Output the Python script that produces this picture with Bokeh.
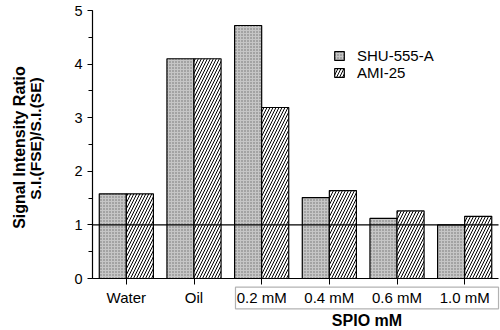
import math
from bokeh.plotting import figure
from bokeh.models import (Range1d, Label, BoxAnnotation, Legend, LegendItem, LinearAxis,
                          SingleIntervalTicker, FixedTicker, ColumnDataSource)
from bokeh.embed import file_html
from bokeh.resources import INLINE

categories = ["Water", "Oil", "0.2 mM", "0.4 mM", "0.6 mM", "1.0 mM"]
shu_555_a = [1.58, 4.10, 4.72, 1.51, 1.12, 1.00]
ami_25 = [1.58, 4.10, 3.19, 1.64, 1.26, 1.16]
series_names = ["SHU-555-A", "AMI-25"]
baseline = 1.0
y_max = 5
y_title = ["Signal Intensity Ratio", "S.I.(FSE)/S.I.(SE)"]
x_title = "SPIO mM"

FONT = "Liberation Sans"
n = len(categories)
pos = list(range(n))

src = ColumnDataSource(dict(
    x_shu=[i - 0.2 for i in pos], x_ami=[i + 0.2 for i in pos],
    shu=shu_555_a, ami=ami_25))

XS = 67.67   # px per category
YS = 53.6    # px per unit
X0PX, Y0PX = 92, 278
W, H = 500, 330
x_start = -0.5 - X0PX / XS
x_end = -0.5 + (W - X0PX) / XS
y_start = -(H - Y0PX) / YS
y_end = Y0PX / YS

p = figure(width=W, height=H, x_range=Range1d(x_start, x_end), y_range=Range1d(y_start, y_end),
           x_axis_type=None, y_axis_type=None,
           output_backend="svg", toolbar_location=None,
           min_border_left=0, min_border_right=0, min_border_top=0, min_border_bottom=0)
p.outline_line_color = None
p.background_fill_color = "white"

r1 = p.vbar(x="x_shu", top="shu", width=0.4, source=src,
            fill_color="#c6c6c6", line_color="black", line_width=1.2,
            hatch_pattern="dot", hatch_color="#6e6e6e", hatch_scale=3, hatch_weight=1)
r2 = p.vbar(x="x_ami", top="ami", width=0.4, source=src,
            fill_color="white", line_color="black", line_width=1.2,
            hatch_pattern="right_diagonal_line", hatch_color="black", hatch_scale=6,
            hatch_weight=1)

# reference line at ratio = 1
p.segment(x0=[-0.5], x1=[n - 0.5], y0=[baseline], y1=[baseline],
          line_color="black", line_width=1.2)

ya = LinearAxis(fixed_location=-0.5, bounds=(0, y_max),
                ticker=SingleIntervalTicker(interval=1, num_minor_ticks=2))
ya.major_tick_in = 0
ya.major_tick_out = 5
ya.minor_tick_in = 0
ya.minor_tick_out = 4
ya.axis_line_width = 1.2
ya.axis_line_color = "black"
ya.major_tick_line_color = "black"
ya.minor_tick_line_color = "black"
ya.major_label_text_font = FONT
ya.major_label_text_font_size = "14.5px"
ya.major_label_text_color = "black"
ya.major_label_standoff = 5
p.add_layout(ya, "left")

xa = LinearAxis(fixed_location=0, bounds=(-0.5, n - 0.5), ticker=FixedTicker(ticks=pos))
xa.major_label_overrides = {i: c for i, c in zip(pos, categories)}
xa.major_tick_in = 0
xa.major_tick_out = 6
xa.minor_tick_line_color = None
xa.axis_line_width = 1.2
xa.axis_line_color = "black"
xa.major_tick_line_color = "black"
xa.major_label_text_font = FONT
xa.major_label_text_font_size = "15px"
xa.major_label_text_color = "black"
xa.major_label_standoff = 4
p.add_layout(xa, "below")

# box around the SPIO concentrations
p.add_layout(BoxAnnotation(left=1.613, right=n - 0.5, top=-0.162, bottom=-0.565,
                           fill_color=None, fill_alpha=0, line_color="black", line_width=1.2))

p.add_layout(Label(x=3.556, y=-0.785, text=x_title, text_align="center", text_baseline="middle",
                   text_font=FONT, text_font_size="16px", text_font_style="bold",
                   text_color="black"))

p.add_layout(Label(x=-1.579, y=2.444, text=y_title[0], angle=math.pi / 2,
                   text_align="center", text_baseline="middle",
                   text_font=FONT, text_font_size="16px", text_font_style="bold",
                   text_color="black"))
p.add_layout(Label(x=-1.342, y=2.612, text=y_title[1], angle=math.pi / 2,
                   text_align="center", text_baseline="middle",
                   text_font=FONT, text_font_size="15.5px", text_font_style="bold",
                   text_color="black"))

legend = Legend(items=[LegendItem(label=series_names[0], renderers=[r1]),
                       LegendItem(label=series_names[1], renderers=[r2])],
                location=(333, 249), border_line_color=None, background_fill_alpha=0,
                padding=0, margin=0, spacing=0, glyph_width=12, glyph_height=11,
                label_height=15, label_standoff=12, label_text_font=FONT,
                label_text_font_size="15px", label_text_color="black")
p.add_layout(legend)

open("out.html", "w").write(file_html(p, INLINE))
